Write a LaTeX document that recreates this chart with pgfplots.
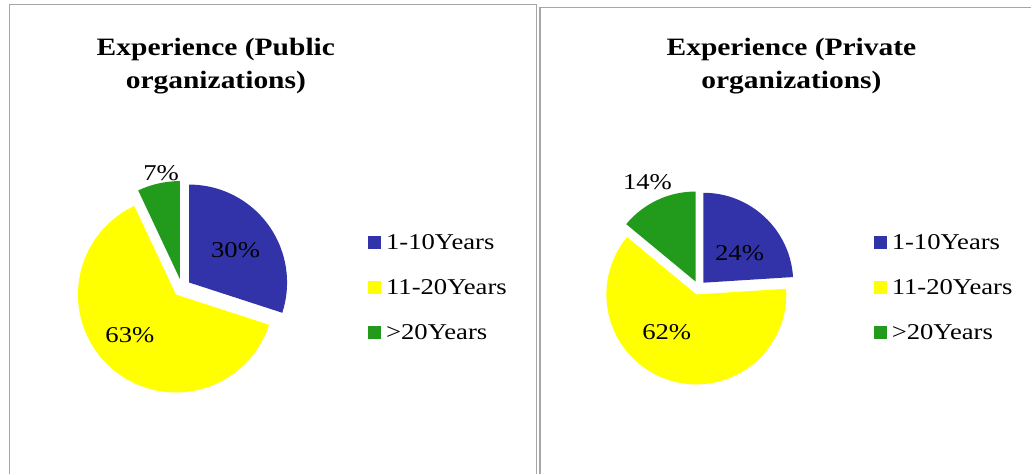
\documentclass[border=0pt]{standalone}
\usepackage{fontspec}
\setmainfont{Liberation Serif}[FakeStretch=1.18]
\usepackage{pgfplots}
\usepackage{pgfplotstable}
\pgfplotsset{compat=1.18}
\definecolor{cblue}{HTML}{3333A9}
\definecolor{cyellow}{HTML}{FFFF00}
\definecolor{cgreen}{HTML}{229A1C}
\definecolor{border}{HTML}{A6A6A6}

% shares of respondents, percent; lr/la = label distance (x radius) and angle
\pgfplotstableread{
label      val lr   la     col
1-10Years  30  0.67 35.1   cblue
11-20Years 63  0.715 -137.9 cyellow
>20Years   7   1.19 100.3  cgreen
}\publictable
\pgfplotstableread{
label      val lr   la     col
1-10Years  24  0.60 40.5   cblue
11-20Years 62  0.61 -125.4 cyellow
>20Years   14  1.30 115.9  cgreen
}\privatetable
\pgfplotstablecreatecol[create col/expr accum={\pgfmathaccuma + \thisrow{val}}{0}]{cum}\publictable
\pgfplotstablecreatecol[create col/expr accum={\pgfmathaccuma + \thisrow{val}}{0}]{cum}\privatetable

\newcommand{\labfont}{\fontsize{11.3}{13}\selectfont}
\newcommand{\titfont}{\fontsize{12.5}{16.5}\selectfont\bfseries}

% #1 table, #2 cx, #3 cy, #4 radius, #5 explode (all in px)
\newcommand{\drawpie}[5]{%
  \pgfplotsinvokeforeach{0,1,2}{%
    \pgfplotstablegetelem{##1}{val}\of{#1}\let\pv\pgfplotsretval
    \pgfplotstablegetelem{##1}{cum}\of{#1}\let\pc\pgfplotsretval
    \pgfplotstablegetelem{##1}{lr}\of{#1}\let\pl\pgfplotsretval
    \pgfplotstablegetelem{##1}{la}\of{#1}\let\pa\pgfplotsretval
    \pgfplotstablegetelem{##1}{col}\of{#1}\let\pcol\pgfplotsretval
    \pgfmathsetmacro\aend{90-3.6*\pc}
    \pgfmathsetmacro\astart{\aend+3.6*\pv}
    \pgfmathsetmacro\amid{(\astart+\aend)/2}
    \pgfmathsetmacro\px{#2+#5*cos(\amid)}
    \pgfmathsetmacro\py{#3-#5*sin(\amid)}
    \pgfmathsetmacro\lx{#2+\pl*#4*cos(\pa)}
    \pgfmathsetmacro\ly{#3-\pl*#4*sin(\pa)}
    \pgfmathsetmacro\rr{0.5*#4}
    \edef\doslice{\noexpand\fill[\pcol] (axis cs:\px,\py) -- ++(\astart:\rr pt)
      arc[start angle=\astart,end angle=\aend,radius=\rr pt] -- cycle;
      \noexpand\node[font=\noexpand\labfont,inner sep=0pt] at (axis cs:\lx,\ly) {\pv\noexpand\%};}%
    \doslice
  }%
}

\pgfplotsset{
  panel/.style={
    x=0.5pt,y=0.5pt,xmin=0,xmax=1032,ymin=0,ymax=474,y dir=reverse,
    hide axis,clip=false,
    legend image code/.code={\fill[##1] (0pt,-3.25pt) rectangle (6.5pt,3.25pt);},
    legend cell align=left,
    legend style={draw=none,fill=none,inner sep=0pt,anchor=north west,
      font=\labfont,row sep=15pt,
      nodes={inner sep=0pt,text height=7.5pt,text depth=0pt},
      /tikz/every odd column/.append style={column sep=2.5pt}},
  }
}

\begin{document}
\begin{tikzpicture}
\begin{axis}[panel,legend style={at={(axis cs:368,234.5)}}]
\fill[white] (axis cs:0,0) rectangle (axis cs:1032,474);
\draw[border,line width=0.75pt] (axis cs:9.5,474) -- (axis cs:9.5,4.5) -- (axis cs:537,4.5) -- (axis cs:537,474);
\draw[border,line width=0.75pt] (axis cs:540.5,474) -- (axis cs:540.5,7.5) -- (axis cs:1032,7.5);
\node[font=\titfont,align=center] at (axis cs:216,66) {Experience (Public\\organizations)};
\drawpie{\publictable}{182}{288}{98}{9}
\addlegendimage{fill=cblue,draw=none}
\addlegendimage{fill=cyellow,draw=none}
\addlegendimage{fill=cgreen,draw=none}
\legend{1-10Years,11-20Years,>20Years}
\end{axis}
\begin{axis}[panel,legend style={at={(axis cs:874,234.5)}}]
\node[font=\titfont,align=center] at (axis cs:792,66) {Experience (Private\\organizations)};
\drawpie{\privatetable}{699}{288}{90}{7}
\addlegendimage{fill=cblue,draw=none}
\addlegendimage{fill=cyellow,draw=none}
\addlegendimage{fill=cgreen,draw=none}
\legend{1-10Years,11-20Years,>20Years}
\end{axis}
\end{tikzpicture}
\end{document}
